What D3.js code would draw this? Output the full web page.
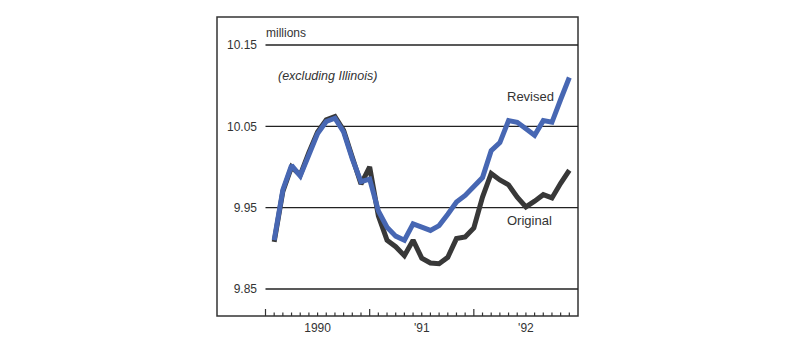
<!DOCTYPE html>
<html><head><meta charset="utf-8">
<script src="https://cdn.jsdelivr.net/npm/d3@7"></script>
<style>body{margin:0;background:#fff;} svg{display:block;} text{font-family:"Liberation Sans",Arial,sans-serif;fill:#333;}</style>
</head><body><svg id="c" width="800" height="350"></svg>
<script>
// month index (1 = first plotted month, Jan 1990 axis starts at 0)
const months = d3.range(1, 36);
const original = [9.908,9.970,10.000,9.990,10.018,10.043,10.058,10.062,10.045,10.012,
  9.979,10.000,9.940,9.910,9.902,9.891,9.910,9.888,9.882,9.881,
  9.889,9.912,9.914,9.925,9.963,9.992,9.984,9.978,9.963,9.951,
  9.958,9.966,9.962,9.980,9.996];
const revised = [9.910,9.972,10.002,9.989,10.015,10.041,10.056,10.060,10.043,10.010,
  9.982,9.985,9.946,9.926,9.915,9.910,9.930,9.926,9.922,9.928,
  9.942,9.957,9.965,9.976,9.987,10.020,10.030,10.057,10.055,10.047,
  10.039,10.057,10.055,10.083,10.110];
const yTicks = [9.85, 9.95, 10.05, 10.15];
const yTickLabels = ["9.85", "9.95", "10.05", "10.15"];
const yearLabels = ["1990", "'91", "'92"];
const yearMid = [6, 18, 30];

const svg = d3.select("#c");
const box = {l:217, t:17, r:578, b:316};
const x = d3.scaleLinear().domain([0, 36]).range([265.5, 578]);
const y = d3.scaleLinear().domain([9.85, 10.15]).range([289, 45]);

// frame
svg.append("rect").attr("x", box.l).attr("y", box.t)
  .attr("width", box.r - box.l).attr("height", box.b - box.t)
  .attr("fill", "none").attr("stroke", "#333").attr("stroke-width", 1.5);

// gridlines
svg.append("g").selectAll("line").data(yTicks).join("line")
  .attr("x1", x(0)).attr("x2", box.r)
  .attr("y1", d => y(d)).attr("y2", d => y(d))
  .attr("stroke", "#222").attr("stroke-width", 1.4);

// y labels
svg.append("g").selectAll("text").data(yTicks).join("text")
  .attr("x", 257).attr("y", d => y(d)).attr("dy", "0.35em")
  .attr("text-anchor", "end").attr("font-size", 12)
  .text((d, i) => yTickLabels[i]);

// x ticks (inside, upward from bottom)
const tickMonths = d3.range(0, 36);
svg.append("g").selectAll("line").data(tickMonths).join("line")
  .attr("x1", d => x(d)).attr("x2", d => x(d))
  .attr("y1", box.b).attr("y2", d => d % 12 === 0 ? box.b - 7 : box.b - 3.5)
  .attr("stroke", "#333").attr("stroke-width", 1.2);

svg.append("g").selectAll("text").data(yearLabels).join("text")
  .attr("x", (d, i) => x(yearMid[i])).attr("y", 332)
  .attr("text-anchor", "middle").attr("font-size", 12)
  .text(d => d);

// annotations
svg.append("text").attr("x", 266).attr("y", 37).attr("font-size", 12).text("millions");
svg.append("text").attr("x", 278).attr("y", 80).attr("font-size", 12.5)
  .attr("font-style", "italic").text("(excluding Illinois)");
svg.append("text").attr("x", 507).attr("y", 101).attr("font-size", 13).text("Revised");
svg.append("text").attr("x", 507).attr("y", 225).attr("font-size", 13).text("Original");

const line = d3.line().x((d, i) => x(months[i])).y(d => y(d));
svg.append("path").datum(original).attr("d", line)
  .attr("fill", "none").attr("stroke", "#383838").attr("stroke-width", 5)
  .attr("stroke-linejoin", "miter").attr("stroke-miterlimit", 2);
svg.append("path").datum(revised).attr("d", line)
  .attr("fill", "none").attr("stroke", "#4767b3").attr("stroke-width", 5)
  .attr("stroke-linejoin", "miter").attr("stroke-miterlimit", 2);
</script></body></html>
